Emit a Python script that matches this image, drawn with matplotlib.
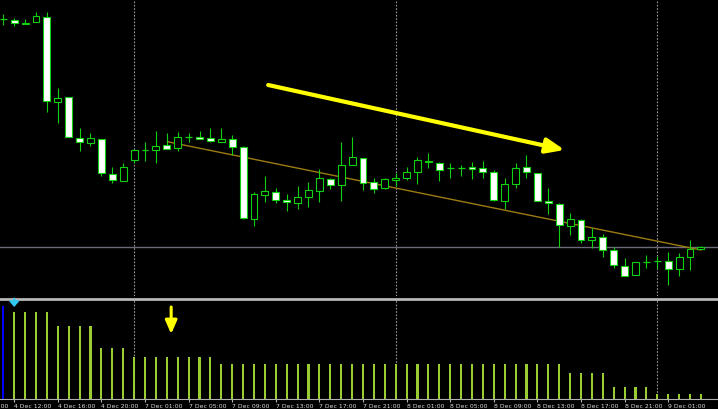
import matplotlib
matplotlib.use('Agg')
import matplotlib.pyplot as plt

# H1 candles, price in points (arbitrary base, no price scale visible)
opens = [281, 280, 276, 277.7, 282.7, 198, 203.3, 161.7, 157.3, 161, 126.3, 119,
         140, 150, 150, 154.7, 152, 162.7, 163.3, 161.7, 157.7, 160.7, 152.7, 81,
         104.7, 107.7, 100.3, 97.3, 103.3, 108.7, 121.3, 115.3, 134.7, 142, 117.7, 111.7,
         119.7, 122.3, 127.7, 139.3, 137.3, 131.7, 131.7, 133, 131.7, 128.3, 99.3, 115.7,
         132.7, 126.7, 98.7, 96, 74, 80.3, 60, 63.3, 50, 34.3, 25, 37.7,
         39, 39, 31, 43.3, 51.3]
highs = [286, 281.7, 281.5, 287.7, 288.3, 212.3, 203.3, 172.3, 166.7, 161.5, 133.3, 136.7,
         151, 157.7, 169, 166.7, 167.7, 166.7, 168.7, 171.7, 171.7, 165, 154, 108.3,
         124, 112.3, 105.7, 114, 118, 131.3, 122, 158.3, 163.3, 142.5, 121.7, 122,
         126.7, 133, 143.3, 147.3, 138, 136.7, 135, 138.3, 139.3, 130, 122.3, 136.7,
         145, 127, 111.7, 97, 87.3, 81, 71.7, 66, 52.7, 42.3, 38, 45,
         44.3, 47.7, 46.7, 60, 54]
lows = [275, 274, 275.7, 277.7, 188.3, 177.3, 162.7, 149.3, 154.3, 124.3, 117, 119,
        137.3, 139.3, 136.7, 151.3, 148.7, 158.3, 161, 158.3, 157.7, 145, 81, 74,
        98.3, 96.7, 89.3, 90.7, 93, 98, 111, 99, 134.7, 109.7, 106.7, 111,
        114, 119.7, 116.3, 132.3, 119, 121.7, 124.3, 121, 121.7, 99, 90.7, 111.7,
        122.3, 99, 86, 52.7, 65, 56.7, 51.7, 43.3, 31.7, 24.3, 25, 32.3,
        32, 15, 24, 30, 51]
closes = [281, 276.7, 277.5, 283.7, 199, 202.3, 162.7, 158.3, 162, 126.7, 119.7, 133.3,
          150, 150, 154.3, 151.3, 162.7, 162.7, 161, 159, 160.7, 153.3, 81.7, 105.7,
          108.7, 99.7, 97.7, 103, 110, 122.3, 115, 134.7, 142.7, 117.3, 111, 121,
          122.3, 128.3, 140, 137.7, 129.7, 131.7, 131.7, 130.7, 127.7, 100, 115.7, 132.3,
          127.7, 99.3, 96.7, 75, 81, 60, 62.7, 50.3, 35, 24.3, 38, 37.7,
          39, 30.7, 42.7, 51, 53]

# indicator histogram (first bar drawn in blue)
hist_values = [93] + [87] * 4 + [73] * 4 + [51] * 3 + [42] * 8 + [35] * 32 + [26] * 4 + [12] * 4 + [5] * 5

# time axis
tick_bars = [-3, 1, 5, 9, 13, 17, 21, 25, 29, 33, 37, 41, 45, 49, 53, 57, 61]
tick_labels = ['4 Dec 08:00', '4 Dec 12:00', '4 Dec 16:00', '4 Dec 20:00',
               '7 Dec 01:00', '7 Dec 05:00', '7 Dec 09:00', '7 Dec 13:00', '7 Dec 17:00',
               '7 Dec 21:00', '8 Dec 01:00', '8 Dec 05:00', '8 Dec 09:00', '8 Dec 13:00',
               '8 Dec 17:00', '8 Dec 21:00', '9 Dec 01:00']
day_breaks = [12, 36, 60]

# drawn objects
hline_price = 53
trend_x = [15.05, 64]
trend_y = [158.3, 50]
arrow_start = (24.3, 215)
arrow_end = (51.5, 150)
down_arrow_x = 15.4
cyan_arrow_x = 1

GREEN = '#10d010'
BG = 'black'

fig = plt.figure(figsize=(7.18, 4.09), dpi=100, facecolor=BG)
ax = fig.add_axes([0, 113 / 409, 1, 296 / 409])
ax2 = fig.add_axes([0, 10 / 409, 1, 100 / 409])

xlim = (-3.3 / 10.9, (718 - 3.3) / 10.9)
for a in (ax, ax2):
    a.set_facecolor(BG)
    a.set_xlim(*xlim)
    for b in day_breaks:
        a.axvline(b, color='#9a9a9a', lw=0.8, ls=(0, (1.5, 1.5)), zorder=1)

# price panel
ax.set_ylim(4, 300)
ax.axis('off')
ax.axhline(hline_price, color='#6a6a7a', lw=1, zorder=2)
ax.plot(trend_x, trend_y, color='#9c7c10', lw=1, zorder=2)

w = 0.64
for i, (o, h, l, c) in enumerate(zip(opens, highs, lows, closes)):
    ax.vlines(i, l, h, color=GREEN, lw=0.8, zorder=3)
    if o == c:
        ax.hlines(o, i - w / 2, i + w / 2, color=GREEN, lw=0.9, zorder=4)
    else:
        face = 'white' if c < o else 'black'  # bear = white, bull = hollow
        ax.bar(i, abs(c - o), bottom=min(o, c), width=w, facecolor=face,
               edgecolor=GREEN, lw=0.8, zorder=4)

ax.annotate('', xy=arrow_end, xytext=arrow_start,
            arrowprops=dict(arrowstyle='-|>,head_length=1.1,head_width=0.45',
                            color='#ffff00', lw=3, shrinkA=0, shrinkB=0), zorder=5)

# indicator panel
ax2.set_ylim(0, 100)
colors = ['#0000ff'] + ['#9acd32'] * (len(hist_values) - 1)
ax2.bar(range(len(hist_values)), hist_values, width=0.2, color=colors, zorder=3)
for s in ['left', 'right']:
    ax2.spines[s].set_visible(False)
ax2.spines['top'].set_color('#b8b8b8')
ax2.spines['top'].set_linewidth(2)
ax2.spines['bottom'].set_color('#b0b0b0')
ax2.spines['bottom'].set_linewidth(0.8)
ax2.set_yticks([])
ax2.set_xticks([t for t in tick_bars if t >= xlim[0]])
ax2.set_xticklabels([])
ax2.tick_params(axis='x', direction='out', length=2, color='#b0b0b0')
# labels start at their tick, like MT4 (first one runs off the left edge)
for t, lab in zip(tick_bars, tick_labels):
    ax2.text(t, -5, lab, ha='left', va='top', fontsize=4.4, color='#d8d8d8', clip_on=False)

ax2.annotate('', xy=(down_arrow_x, 65), xytext=(down_arrow_x, 92),
             arrowprops=dict(arrowstyle='-|>,head_length=0.8,head_width=0.35',
                             color='#ffff00', lw=2.2, shrinkA=0, shrinkB=0))
ax2.annotate('', xy=(cyan_arrow_x, 92), xytext=(cyan_arrow_x, 100.5),
             arrowprops=dict(arrowstyle='-|>,head_length=0.32,head_width=0.28',
                             color='#30c8f0', lw=1.4, shrinkA=0, shrinkB=0), zorder=5)

plt.savefig('out.png', dpi=100, facecolor=BG)
plt.close()
